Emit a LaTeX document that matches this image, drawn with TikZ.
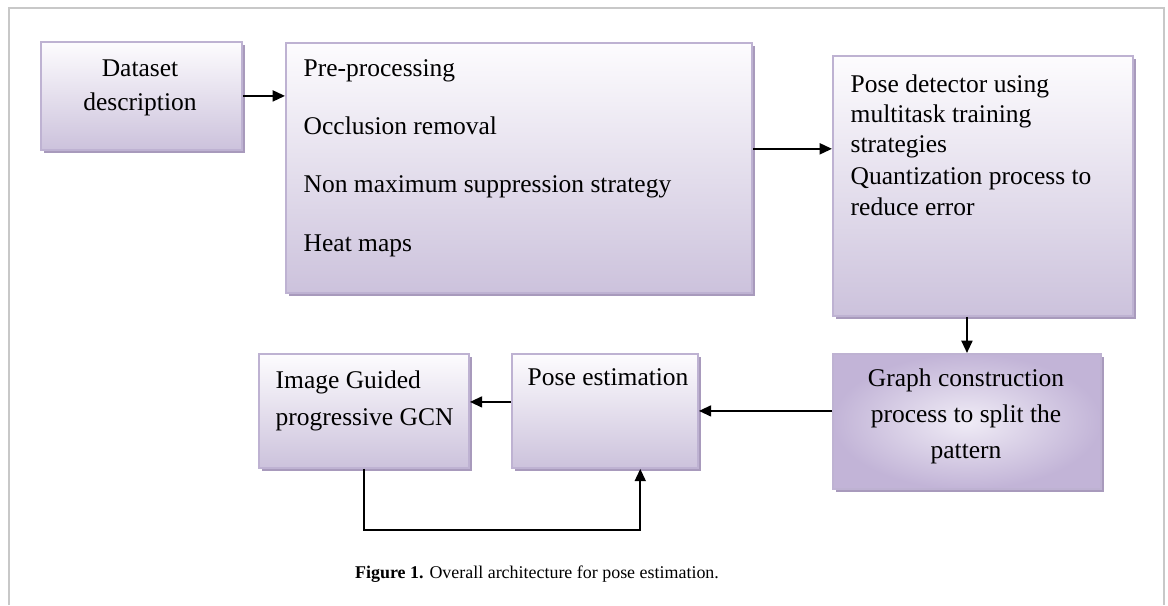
\documentclass[tikz,border=0pt]{standalone}
\usepackage{fontspec}
\setmainfont{Liberation Serif}
\usetikzlibrary{arrows.meta, positioning, calc, shadows}

\definecolor{boxtop}{RGB}{253,252,254}
\definecolor{boxbot}{RGB}{204,194,220}
\definecolor{boxedge}{RGB}{190,178,210}
\definecolor{boxshade}{RGB}{168,154,188}
\definecolor{radin}{RGB}{240,236,246}
\definecolor{radout}{RGB}{194,180,215}
\definecolor{framecol}{RGB}{200,200,200}

\begin{document}
\begin{tikzpicture}[
		x=0.01cm, y=-0.01cm,
		>={Triangle[length=3.5pt, width=3.1pt]},
		box/.style={rectangle, draw=boxedge, line width=0.5pt, anchor=north west, inner sep=0pt,
			top color=boxtop, bottom color=boxbot,
			drop shadow={shadow xshift=0.8pt, shadow yshift=-0.8pt, fill=boxshade, opacity=1}},
		radbox/.style={box, inner color=radin, outer color=radout},
		txt/.style={inner sep=0pt, font=\fontsize{7.25}{9.4}\selectfont},
		flow/.style={->, line width=0.6pt}
		]
		
		\useasboundingbox (0,0) rectangle (1168,605);
		
		% Page frame (open at the bottom)
		\draw[framecol, line width=0.6pt] (9,605) -- (9,8) -- (1164,8) -- (1164,605);
		
		% Top row
		\node[box, minimum width=2.01cm, minimum height=1.08cm] (data) at (40,41) {};
		\node[box, minimum width=4.66cm, minimum height=2.50cm] (prep) at (285,42) {};
		\node[box, minimum width=3.00cm, minimum height=2.60cm] (detect) at (832,55) {};
		
		% Bottom row
		\node[radbox, minimum width=2.68cm, minimum height=1.35cm] (graph) at (832,353) {};
		\node[box, minimum width=1.86cm, minimum height=1.14cm] (est) at (511,353) {};
		\node[box, minimum width=2.10cm, minimum height=1.14cm] (igcn) at (258,353) {};
		
		% Texts in the boxes (placed at the baseline of their last line)
		\node[txt, align=center, anchor=base] (datatxt) at (140,110) {Dataset\\description};
		\node[txt, align=left, anchor=base west, font=\fontsize{7.25}{16.5}\selectfont] (preptxt) at (303,251)
			{Pre-processing\\Occlusion removal\\Non maximum suppression strategy\\Heat maps};
		\node[txt, align=left, anchor=base west, font=\fontsize{7.25}{8.55}\selectfont] (detecttxt) at (850,215)
			{Pose detector using\\multitask training\\strategies\\[0.6pt]Quantization process to\\reduce error};
		\node[txt, align=center, anchor=base, font=\fontsize{7.25}{10.1}\selectfont] (graphtxt) at (966,458)
			{Graph construction\\process to split the\\pattern};
		\node[txt, anchor=base west] (esttxt) at (527,385) {Pose estimation};
		\node[txt, align=left, anchor=base west, font=\fontsize{7.25}{10.5}\selectfont] (igcntxt) at (275,425)
			{Image Guided\\progressive GCN};
		
		% Arrows
		\coordinate (prepout) at ($(prep.north east)!0.424!(prep.south east)$);
		\coordinate (estout) at ($(est.west)+(0,-9)$);
		\coordinate (estin) at ($(est.south west)!0.688!(est.south east)$);
		\draw[flow] (data.east) -- (data.east -| prep.west);
		\draw[flow] (prepout) -- (prepout -| detect.west);
		\draw[flow] (graph.north |- detect.south) -- (graph.north);
		\draw[flow] (est.east -| graph.west) -- (est.east);
		\draw[flow] (estout) -- (estout -| igcn.east);
		% Feedback loop under the bottom row
		\draw[flow] (igcn.south) -- ++(0,61) -| (estin);
		
		% Caption
		\node[txt, anchor=base, font=\fontsize{5.1}{6.2}\selectfont] (caption) at (537,578)
			{\textbf{Figure 1.} Overall architecture for pose estimation.};
		
	\end{tikzpicture}
\end{document}
